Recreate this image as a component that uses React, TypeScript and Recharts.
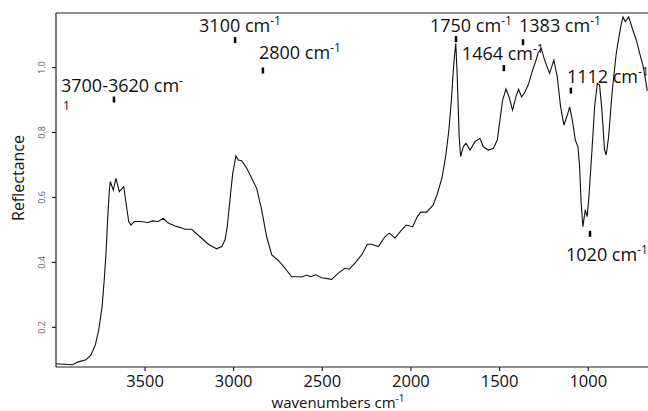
import React from 'react';
import { LineChart, Line, XAxis, YAxis, ReferenceDot, ReferenceLine } from 'recharts';

// ---- data ----
const WAVENUMBERS = [
  4002, 3908, 3880, 3833, 3805, 3780, 3761, 3742, 3730, 3720, 3710, 3701, 3696, 3679, 3664, 3645,
  3620, 3607, 3592, 3579, 3560, 3523, 3485, 3457, 3425, 3397, 3369, 3331, 3303, 3274, 3237, 3190,
  3143, 3096, 3067, 3049, 3036, 3021, 3005, 2987, 2974, 2955, 2926, 2898, 2870, 2842, 2814, 2785,
  2748, 2710, 2673, 2635, 2616, 2588, 2566, 2536, 2504, 2447, 2410, 2372, 2348, 2316, 2278, 2246,
  2222, 2184, 2147, 2122, 2090, 2052, 2028, 1990, 1964, 1945, 1911, 1874, 1852, 1825, 1803, 1786,
  1772, 1761, 1753, 1747, 1739, 1728, 1720, 1705, 1690, 1667, 1639, 1611, 1592, 1564, 1536, 1513,
  1498, 1483, 1464, 1447, 1427, 1408, 1393, 1376, 1361, 1339, 1310, 1291, 1284, 1265, 1246, 1218,
  1194, 1175, 1156, 1137, 1115, 1105, 1090, 1073, 1058, 1049, 1040, 1030, 1017, 1006, 996, 979,
  964, 949, 936, 923, 908, 899, 885, 866, 842, 817, 804, 791, 772, 748, 729, 710, 692, 679, 667,
];
const REFLECTANCE = [
  0.088, 0.085, 0.093, 0.1, 0.115, 0.146, 0.192, 0.264, 0.346, 0.428, 0.541, 0.623, 0.649, 0.623, 0.659, 0.618,
  0.633, 0.583, 0.526, 0.515, 0.526, 0.526, 0.523, 0.528, 0.526, 0.536, 0.521, 0.512, 0.508, 0.502, 0.502, 0.479,
  0.456, 0.442, 0.449, 0.469, 0.51, 0.592, 0.675, 0.728, 0.715, 0.713, 0.69, 0.659, 0.628, 0.562, 0.479, 0.423,
  0.406, 0.382, 0.356, 0.356, 0.355, 0.361, 0.356, 0.362, 0.353, 0.348, 0.367, 0.382, 0.379, 0.398, 0.423, 0.456,
  0.456, 0.449, 0.479, 0.49, 0.475, 0.5, 0.515, 0.51, 0.541, 0.555, 0.555, 0.577, 0.61, 0.66, 0.731, 0.808,
  0.9, 0.992, 1.045, 1.075, 0.972, 0.787, 0.726, 0.756, 0.767, 0.746, 0.772, 0.782, 0.756, 0.746, 0.751, 0.777,
  0.839, 0.9, 0.934, 0.91, 0.869, 0.91, 0.933, 0.91, 0.921, 0.946, 0.998, 1.028, 1.044, 1.059, 1.023, 0.982,
  1.023, 0.972, 0.879, 0.823, 0.859, 0.879, 0.839, 0.777, 0.756, 0.695, 0.582, 0.51, 0.562, 0.541, 0.603, 0.746,
  0.879, 0.951, 0.946, 0.869, 0.746, 0.731, 0.787, 0.921, 1.044, 1.126, 1.156, 1.141, 1.156, 1.115, 1.085, 1.044, 1.008, 0.969, 0.928,
];

const X_TICKS = [3500, 3000, 2500, 2000, 1500, 1000];
const Y_TICKS = [0.2, 0.4, 0.6, 0.8, 1.0];
const X_DOMAIN = [663, 4002];
const Y_DOMAIN = [0.078, 1.168];

const PEAK_NAMES = ['3700-3620', '3100', '2800', '1750', '1383', '1464', '1112', '1020'];
const PEAK_WAVENUMBERS = [3675, 2992, 2835, 1746, 1368, 1476, 1098, 990];
const PEAK_VALUES = [0.9015, 1.0846, 0.991, 1.0877, 1.078, 0.998, 0.929, 0.488];

// label placement (pixel offsets of text relative to the marker)
const LABEL_OFFSETS = [
  [-53, -14.5], [-36, -15], [-4, -17.5], [-26, -14], [-4, -17], [-42, -15], [-4, -14.5], [-24, 21],
];

const data = WAVENUMBERS.map((w, i) => ({ w, r: REFLECTANCE[i] }));

const FONT = "'Open Sans', 'DejaVu Sans', sans-serif";
const AXIS_COLOR = '#222';

const YTick = (props: any) => {
  const { x, y, payload } = props;
  const bx = x - 5;
  return (
    <text
      x={bx}
      y={y}
      transform={`rotate(-90, ${bx}, ${y})`}
      textAnchor="middle"
      fontSize={9}
      fill="#666"
      fontFamily={FONT}
    >
      {Number(payload.value).toFixed(1)}
    </text>
  );
};

const makePeakShape = (i: number) => (props: any) => {
  const { cx, cy } = props;
  if (cx == null || cy == null) return null;
  const [dx, dy] = LABEL_OFFSETS[i];
  const first = i === 0;
  return (
    <g>
      <rect x={cx - 1.25} y={cy - 3} width={2.5} height={6} fill="#000" />
      <text x={cx + dx} y={cy + dy + 6.5} fontSize={18} fontFamily={FONT} fill="#111">
        {PEAK_NAMES[i]} cm
        <tspan fontSize={12} dy={-7}>{first ? '-' : '-1'}</tspan>
      </text>
      {first ? (
        <text x={cx + dx + 2} y={cy + dy + 25} fontSize={12} fontFamily={FONT} fill="#111">
          1
        </text>
      ) : null}
    </g>
  );
};

const XLabel = (props: any) => {
  const vb = props.viewBox || { x: 56, y: 367, width: 592, height: 44 };
  const cx = vb.x + vb.width / 2 - 14;
  const by = vb.y + 40.5;
  return (
    <text x={cx} y={by} textAnchor="middle" fontSize={15} fontFamily={FONT} fill="#111">
      wavenumbers cm
      <tspan fontSize={10} dy={-6}>-1</tspan>
    </text>
  );
};

const YLabel = (props: any) => {
  const vb = props.viewBox || { x: 0, y: 13, width: 56, height: 354 };
  const bx = vb.x + 24;
  const cy = vb.y + vb.height / 2 - 12;
  return (
    <text
      x={bx}
      y={cy}
      transform={`rotate(-90, ${bx}, ${cy})`}
      textAnchor="middle"
      fontSize={16}
      fontFamily={FONT}
      fill="#111"
    >
      Reflectance
    </text>
  );
};

export default function App() {
  return (
    <div style={{ position: 'absolute', left: 0, top: 0, width: 648, height: 411, background: '#fff' }}>
      <LineChart width={648} height={411} data={data} margin={{ top: 13, right: 0, bottom: 0, left: 0 }}>
        <XAxis
          dataKey="w"
          type="number"
          domain={X_DOMAIN}
          allowDataOverflow
          reversed
          ticks={X_TICKS}
          height={44}
          tickSize={4}
          tickMargin={4}
          stroke={AXIS_COLOR}
          axisLine={{ stroke: AXIS_COLOR, strokeWidth: 1.2 }}
          tickLine={{ stroke: AXIS_COLOR, strokeWidth: 1.2 }}
          tick={{ fontSize: 16.5, fill: '#111', fontFamily: FONT }}
          label={XLabel}
        />
        <YAxis
          type="number"
          domain={Y_DOMAIN}
          allowDataOverflow
          ticks={Y_TICKS}
          width={56}
          tickSize={4}
          tickMargin={2}
          axisLine={{ stroke: AXIS_COLOR, strokeWidth: 1.2 }}
          tickLine={{ stroke: AXIS_COLOR, strokeWidth: 1.2 }}
          tick={YTick}
          label={YLabel}
        />
        <ReferenceLine y={Y_DOMAIN[1]} stroke={AXIS_COLOR} strokeWidth={1.2} />
        <Line
          type="linear"
          dataKey="r"
          stroke="#111"
          strokeWidth={1.1}
          dot={false}
          isAnimationActive={false}
        />
        {PEAK_WAVENUMBERS.map((w, i) => (
          <ReferenceDot key={i} x={w} y={PEAK_VALUES[i]} r={3} shape={makePeakShape(i)} />
        ))}
      </LineChart>
    </div>
  );
}
